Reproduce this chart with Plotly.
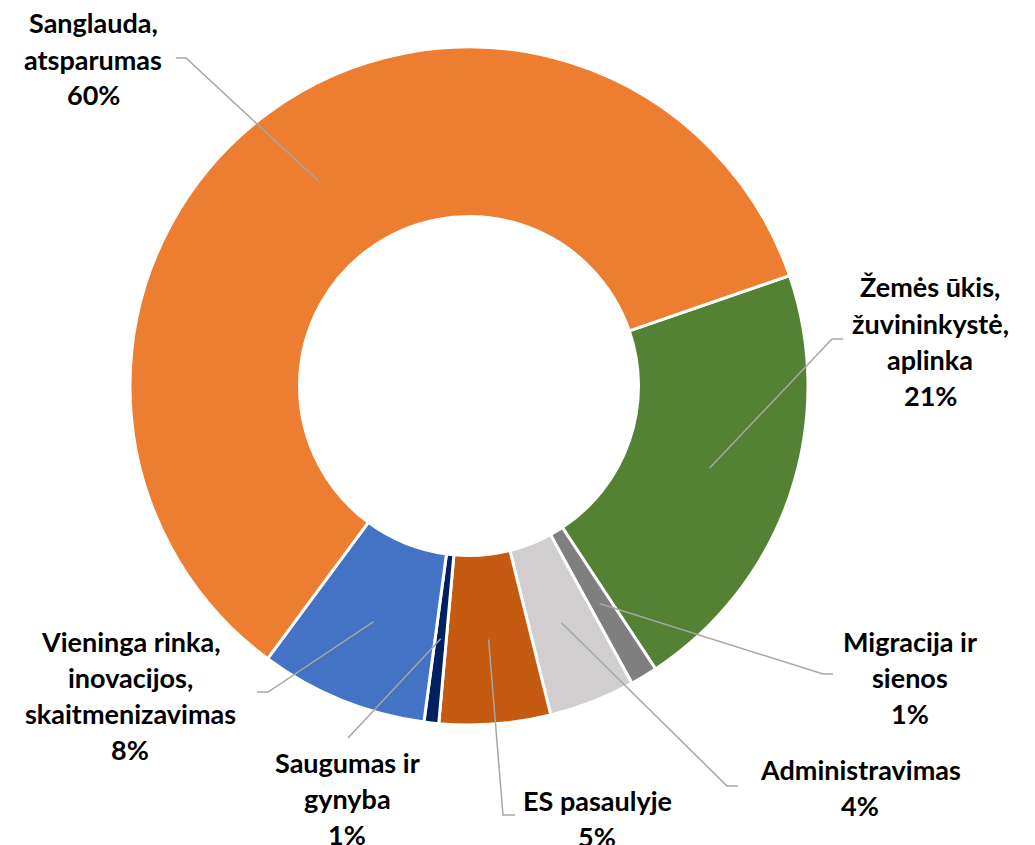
import math
import plotly.graph_objects as go

# ---- data ----
categories = [
    "Žemės ūkis, žuvininkystė, aplinka",
    "Migracija ir sienos",
    "Administravimas",
    "ES pasaulyje",
    "Saugumas ir gynyba",
    "Vieninga rinka, inovacijos, skaitmenizavimas",
    "Sanglauda, atsparumas",
]
values = [21.0, 1.3, 4.1, 5.3, 0.7, 8.0, 59.6]
label_lines = [
    ["Žemės ūkis,", "žuvininkystė,", "aplinka"],
    ["Migracija ir", "sienos"],
    ["Administravimas"],
    ["ES pasaulyje"],
    ["Saugumas ir", "gynyba"],
    ["Vieninga rinka,", "inovacijos,", "skaitmenizavimas"],
    ["Sanglauda,", "atsparumas"],
]
colors = ["#548235", "#7F7F7F", "#D0CECE", "#C55A11", "#002060", "#4472C4", "#ED7D31"]

# ---- layout (screen pixels; page body has an 8px margin) ----
OFF = 8
W, H = 1035 - 2 * OFF, 845 - OFF
CX, CY, R = 469, 386, 339
ROTATION = 71
HOLE = 0.5
ROW = 36
label_pos = [(930, 287), (910, 641), (860, 769), (597, 800), (347, 762), (130, 641), (93, 23)]
elbows = [(832, 339), (823, 674), (727, 786), (503, 815), (348, 738), (268, 692), (186, 58)]
ends = [(843, 339), (833, 674), (738, 786), (515, 815), (348, 738), (257, 692), (176, 58)]


def px(x):
    return (x - OFF) / W


def py(y):
    return 1 - (y - OFF) / H


fig = go.Figure(
    go.Pie(
        labels=categories,
        values=values,
        hole=HOLE,
        sort=False,
        direction="clockwise",
        rotation=ROTATION,
        textinfo="none",
        hoverinfo="label+percent",
        marker=dict(colors=colors, line=dict(color="white", width=3)),
        domain=dict(x=[px(CX - R), px(CX + R)], y=[py(CY + R), py(CY - R)]),
    )
)

total = sum(values)
shapes = []
annotations = []
cum = 0.0
for i, v in enumerate(values):
    mid = math.radians(ROTATION + (cum + v / 2) / total * 360)
    cum += v
    rr = R * (1 + HOLE) / 2
    sx = CX + rr * math.sin(mid)
    sy = CY - rr * math.cos(mid)
    ex, ey = elbows[i]
    tx, ty = ends[i]
    shapes.append(
        dict(
            type="path",
            xref="paper",
            yref="paper",
            path=f"M {px(sx)} {py(sy)} L {px(ex)} {py(ey)} L {px(tx)} {py(ty)}",
            line=dict(color="#A6A6A6", width=1.5),
        )
    )
    pct = f"{round(v / total * 100)}%"
    lines = label_lines[i] + [pct]
    lx, ly = label_pos[i]
    for k, t in enumerate(lines):
        annotations.append(
            dict(
                text=t,
                x=px(lx),
                y=py(ly + k * ROW),
                xref="paper",
                yref="paper",
                xanchor="center",
                yanchor="middle",
                showarrow=False,
                font=dict(family="Lato", size=27, color="#000000", weight="bold"),
            )
        )

fig.update_layout(
    width=W,
    height=H,
    margin=dict(l=0, r=0, t=0, b=0),
    paper_bgcolor="white",
    plot_bgcolor="white",
    showlegend=False,
    shapes=shapes,
    annotations=annotations,
)

fig.write_html("out.html")
